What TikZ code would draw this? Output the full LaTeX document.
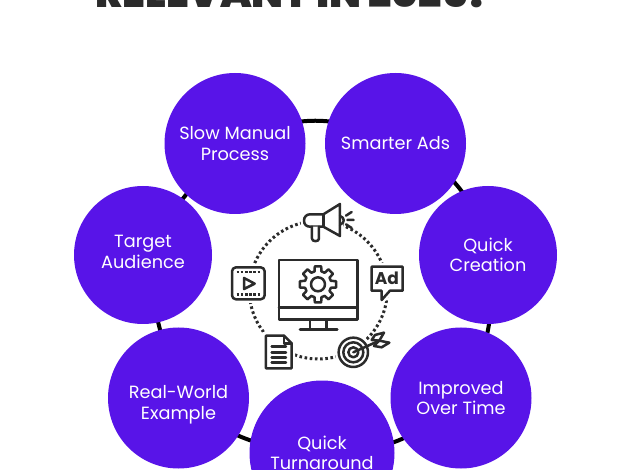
\documentclass[tikz,border=0pt]{standalone}
\usepackage{fontspec}
\usetikzlibrary{calc}
\usetikzlibrary{backgrounds}
\setmainfont{Poppins}
\newfontfamily\titlefont{Poppins}[UprightFont=* Black]
\definecolor{topicviolet}{HTML}{5814E8}
\definecolor{icongray}{HTML}{2B2B2B}
\tikzset{
  topic/.style={circle,fill=topicviolet,minimum size=141pt,inner sep=0pt},
  topictext/.style={text=white,inner sep=0pt,align=center,font=\fontsize{17.7}{20.5}\selectfont},
  ringlink/.style={line width=4pt,black},
  iconline/.style={line width=2.5pt,icongray,line join=round,line cap=round},
  iconfill/.style={iconline,fill=white,preaction={draw=white,line width=7pt}},
}
\begin{document}
\begin{tikzpicture}[x=1pt,y=-1pt]
\useasboundingbox (0,0) rectangle (640,470);
\node[anchor=base,text=icongray,font=\fontsize{41}{41}\titlefont] (title) at (289.5,7.5) {\hspace{7pt}RELEVANT IN 2025?};

\node[topic] (slow) at (235,143.5) {};
\node[topic] (smarter) at (395.5,143.5) {};
\node[topic,minimum size=138pt] (creation) at (488,255) {};
\node[topic] (improved) at (461,398) {};
\node[topic,minimum size=145pt] (turnaround) at (322,453) {};
\node[topic] (realworld) at (178.5,398) {};
\node[topic,minimum size=138pt] (target) at (143,255) {};

\node[topictext] (slowtext) at (slow) {Slow Manual\\Process};
\node[topictext] (smartertext) at (smarter) {Smarter Ads};
\node[topictext] (creationtext) at (creation) {Quick\\Creation};
\node[topictext] (improvedtext) at (improved) {Improved\\Over Time};
\node[topictext] (turnaroundtext) at (turnaround) {Quick\\Turnaround};
\node[topictext] (realworldtext) at ($(realworld) + (0,7)$) {Real-World\\Example};
\node[topictext] (targettext) at ($(target) + (0,-3)$) {Target\\Audience};

\begin{scope}[on background layer]
\draw[ringlink] (slow.center) to[bend left=29] (smarter.center);
\draw[ringlink] (smarter.center) to[bend left=29] (creation.center);
\draw[ringlink] (creation.center) to[bend left=19] (improved.center);
\draw[ringlink] (improved.center) to[bend left=22] (turnaround.center);
\draw[ringlink] (turnaround.center) to[bend left=18] (realworld.center);
\draw[ringlink] (realworld.center) to[bend left=2] (target.center);
\draw[ringlink] (target.center) to[bend left=7] (slow.center);
\end{scope}

% dotted ring
\draw[line width=3pt,icongray,dash pattern=on 2.6pt off 2.6pt] (318.3,290) circle[radius=69];

% icons, in crop coordinates
\begin{scope}[xshift=220pt,yshift=-190pt,x=0.3333pt,y=-0.3333pt]
% screen
\draw[iconline] (177,210) rectangle (413,388);
\draw[iconline] (177,352) -- (413,352);
\draw[iconline] (270,388) -- (270,418) (320,388) -- (320,418);
\draw[iconline] (240,418) -- (352,418);
\begin{scope}[shift={(294,283)}]
\draw[iconline] (-10:55) \foreach \a in {0,45,...,315} {
  -- ({\a-10}:55) -- ({\a+10}:55) -- ({\a+15}:40) -- ({\a+30}:40)} -- cycle;
\draw[iconline] (0,0) circle[radius=21];
\end{scope}
% megaphone
\draw[iconfill] (252,92) .. controls (252,80) and (260,73) .. (270,73) -- (310,73) -- (360,42) -- (360,138)
  -- (310,110) -- (270,110) .. controls (260,110) and (252,104) .. (252,92) -- cycle;
\draw[iconline] (310,73) -- (310,110);
\draw[iconline,fill=white] (276,110) -- (276,146) .. controls (276,156) and (297,156) .. (297,146) -- (297,110);
\draw[iconline] (360,78) .. controls (375,82) and (375,100) .. (360,104);
\draw[iconline] (378,77) -- (395,66) (382,90) -- (401,90) (378,103) -- (395,114);
% video
\draw[iconfill,rounded corners=4pt] (36,232) rectangle (134,328);
\draw[iconline,line cap=butt,dash pattern=on 2.6pt off 1.6pt] (50,246) -- (122,246) (50,314) -- (122,314);
\draw[iconline] (72,264) -- (72,297) -- (104,281) -- cycle;
% advert
\draw[iconfill] (455,230) -- (548,230) -- (548,302) -- (510,302) -- (485,330) -- (485,302) -- (455,302) -- cycle;
\node[text=icongray,inner sep=0pt,font=\fontsize{17}{17}\bfseries] (adtext) at (501,266) {Ad};
% paper
\draw[iconfill] (138,437) -- (192,437) -- (215,460) -- (215,535) -- (138,535) -- cycle;
\draw[iconline] (192,437) -- (192,460) -- (215,460);
\draw[iconline] (155,470) -- (198,470) (155,487) -- (198,487) (155,503) -- (198,503) (155,518) -- (198,518);
% bullseye
\draw[iconfill] (400,487) circle[radius=44];
\draw[iconline] (400,487) circle[radius=30];
\draw[iconline] (400,487) circle[radius=15];
\draw[iconline,fill=white] (455,450) -- (465,435) -- (492,428) -- (478,452) -- cycle;
\draw[iconline,fill=white] (478,452) -- (508,458) -- (485,472) -- (462,468) -- cycle;
\draw[iconline] (400,487) -- (478,452);
\end{scope}
\end{tikzpicture}
\end{document}
